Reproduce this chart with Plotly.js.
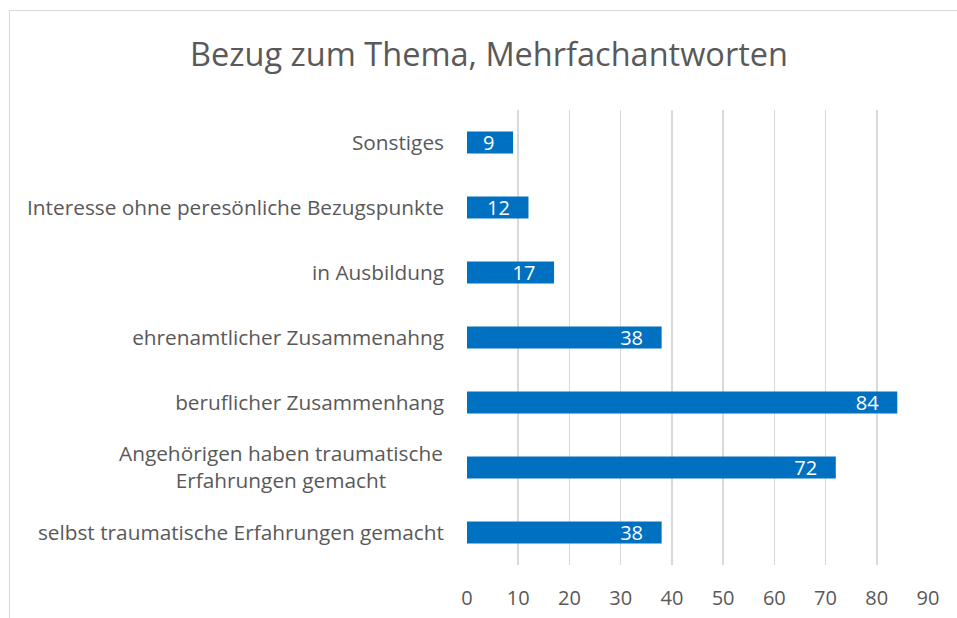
<!DOCTYPE html>
<html><head><meta charset="utf-8">
<script src="https://cdn.plot.ly/plotly-3.0.1.min.js"></script>
<style>
html,body{margin:0;padding:0;background:#fff;}
#wrap{position:relative;width:957px;height:618px;}
#chart{width:957px;height:618px;}
#frame{position:absolute;left:9px;top:10px;right:-5px;bottom:-5px;border-left:1px solid #d9d9d9;border-top:1px solid #d9d9d9;pointer-events:none;}
</style></head>
<body><div id="wrap"><div id="chart"></div><div id="frame"></div></div>
<script>
const categories = [
  "Sonstiges",
  "Interesse ohne peresönliche Bezugspunkte",
  "in Ausbildung",
  "ehrenamtlicher Zusammenahng",
  "beruflicher Zusammenhang",
  "Angehörigen haben traumatische Erfahrungen gemacht",
  "selbst traumatische Erfahrungen gemacht"
];
const tickLabels = [
  "Sonstiges",
  "Interesse ohne peresönliche Bezugspunkte",
  "in Ausbildung",
  "ehrenamtlicher Zusammenahng",
  "beruflicher Zusammenhang",
  "",
  "selbst traumatische Erfahrungen gemacht"
];
const multiLineLabel = "Angehörigen haben traumatische<br>Erfahrungen gemacht";
const values = [9, 12, 17, 38, 84, 72, 38];
const xTicks = [0,10,20,30,40,50,60,70,80,90];

const font = "'Open Sans', sans-serif";
const pad = "\u00a0\u00a0\u00a0";

Plotly.newPlot("chart", [{
  type: "bar",
  orientation: "h",
  y: categories,
  x: values,
  marker: {color: "#0070C0"},
  width: 0.34,
  text: values.map(v => String(v) + pad),
  textposition: "inside",
  insidetextanchor: "end",
  constraintext: "none",
  textangle: 0,
  textfont: {color: "#ffffff", size: 20, family: font},
  hoverinfo: "none"
}], {
  width: 957, height: 618,
  margin: {l: 467, r: 29, t: 110, b: 53, pad: 0},
  paper_bgcolor: "#ffffff", plot_bgcolor: "#ffffff",
  showlegend: false,
  title: {text: "Bezug zum Thema, Mehrfachantworten", x: 0.511, xanchor: "center", y: 0.912, yanchor: "middle",
          font: {family: font, size: 32.5, color: "#595959"}},
  xaxis: {range: [0, 90], tickvals: xTicks, ticktext: xTicks.map(String), showgrid: true, gridcolor: "#d9d9d9", gridwidth: 1.5,
          zeroline: false, showline: false, ticks: "", ticklabelstandoff: 19,
          tickfont: {family: font, size: 20, color: "#595959"}, fixedrange: true},
  yaxis: {type: "category", categoryorder: "array", categoryarray: categories, autorange: "reversed",
          tickvals: categories, ticktext: tickLabels, showgrid: false, zeroline: false, showline: false,
          ticks: "", ticklabelstandoff: 22, tickfont: {family: font, size: 20.8, color: "#595959"}, fixedrange: true},
  annotations: [{
    xref: "paper", yref: "y", x: 0, y: categories[5], xanchor: "right", yanchor: "middle", xshift: -22, yshift: 1,
    text: multiLineLabel, align: "center", showarrow: false,
    font: {family: font, size: 20.8, color: "#595959"}
  }]
}, {displayModeBar: false, staticPlot: true});
</script></body></html>
